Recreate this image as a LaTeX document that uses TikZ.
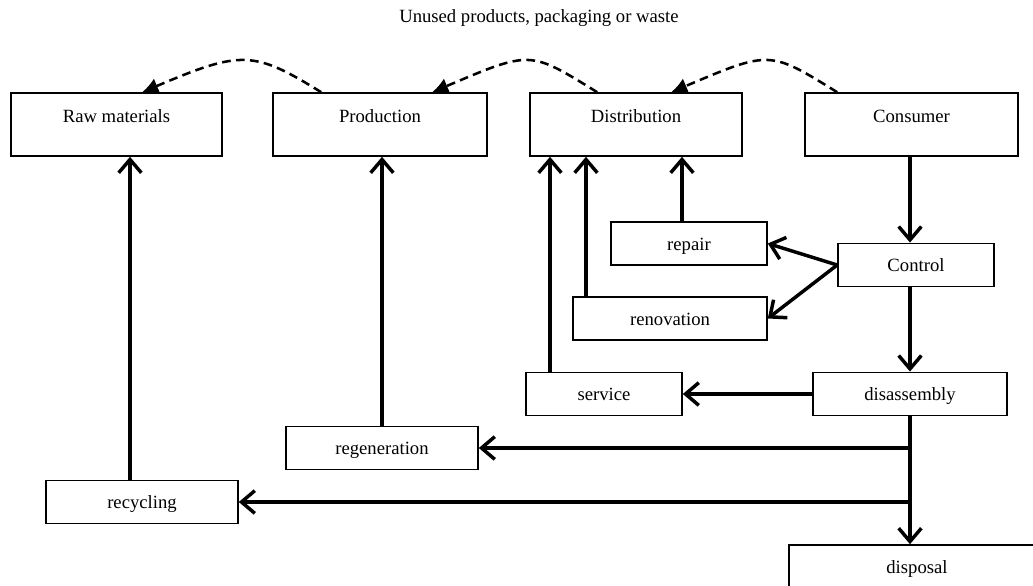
\documentclass[tikz,border=0pt]{standalone}
\usepackage{fontspec}
\setmainfont{Liberation Serif}
\usetikzlibrary{arrows.meta,calc}
\begin{document}
\begin{tikzpicture}[x=0.75pt,y=-0.75pt,
  txt/.style={font=\fontsize{14}{17}\selectfont},
  box/.style={draw, line width=1.2pt, inner sep=0pt, txt, text height=10pt, text depth=0pt, minimum height=32.5pt},
  bigbox/.style={draw, line width=1.2pt, inner sep=0pt, txt, text height=21.75pt, text depth=25.5pt},
  arr/.style={line width=2.6pt, -{Straight Barb[length=10pt,width=17pt,line width=2.6pt]}},
  dasharr/.style={line width=1.9pt, dash pattern=on 6.5pt off 4pt, -{Latex[length=12pt,width=12pt]}}
]
\useasboundingbox (0,0) rectangle (1033,586);
\fill[white] (0,0) rectangle (1033,586);
\clip (0,0) rectangle (1033,586);

\node[txt] (title) at (539,18) {Unused products, packaging or waste};

\node[bigbox, minimum width=158.25pt] (raw) at (116.5,124.5) {Raw materials};
\node[bigbox, minimum width=160.5pt] (prod) at (380,124.5) {Production};
\node[bigbox, minimum width=159pt] (dist) at (636,124.5) {Distribution};
\node[bigbox, minimum width=159.75pt] (cons) at (911.5,124.5) {Consumer};

\node[box, minimum width=117pt] (repair) at (689,243.5) {repair};
\node[box, minimum width=117pt] (control) at (916,265) {Control};
\node[box, minimum width=145.5pt] (renov) at (670,318.5) {renovation};
\node[box, minimum width=117pt] (service) at (604,394) {service};
\node[box, minimum width=145.5pt] (disas) at (910,394) {disassembly};
\node[box, minimum width=144pt] (regen) at (382,448) {regeneration};
\node[box, minimum width=144pt] (recyc) at (142,502) {recycling};
\node[box, minimum width=192pt, minimum height=33pt] (disp) at (917,567) {disposal};

\coordinate (xraw) at (130,0);
\coordinate (xprod) at (382,0);
\coordinate (xs1) at (550,0);
\coordinate (xs2) at (586,0);
\coordinate (xs3) at (682,0);
\coordinate (xc) at (910,0);

\draw[arr] (recyc.north -| xraw) -- (raw.south -| xraw);
\draw[arr] (regen.north -| xprod) -- (prod.south -| xprod);
\draw[arr] (service.north -| xs1) -- (dist.south -| xs1);
\draw[arr] (renov.north -| xs2) -- (dist.south -| xs2);
\draw[arr] (repair.north -| xs3) -- (dist.south -| xs3);
\draw[arr] (cons.south -| xc) -- (control.north -| xc);
\draw[arr] (control.west) -- (repair.east);
\draw[arr] (control.west) -- (renov.east);
\draw[arr] (control.south -| xc) -- (disas.north -| xc);
\draw[arr] (disas.west) -- (service.east);
\draw[arr] (disas.south -| xc) -- (disp.north -| xc);
\draw[arr] (regen.east -| xc) -- (regen.east);
\draw[arr] (recyc.east -| xc) -- (recyc.east);

\draw[dasharr] ($(prod.north west)+(49,0)$) .. controls +(-68,-42) and +(99,-42) .. ($(raw.north west)+(132,0)$);
\draw[dasharr] ($(dist.north west)+(68,0)$) .. controls +(-68,-42) and +(99,-42) .. ($(prod.north west)+(160,0)$);
\draw[dasharr] ($(cons.north west)+(33,0)$) .. controls +(-68,-42) and +(99,-42) .. ($(dist.north west)+(142,0)$);
\end{tikzpicture}
\end{document}
